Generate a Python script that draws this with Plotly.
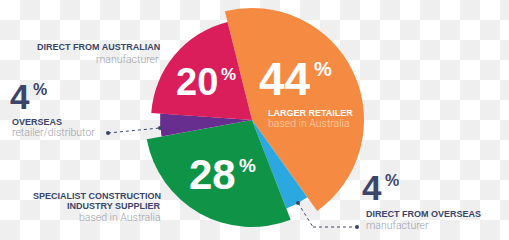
import plotly.graph_objects as go

# Where buyers sourced their products (share of respondents, %)
categories = [
    "Larger retailer based in Australia",
    "Direct from overseas manufacturer",
    "Specialist construction industry supplier based in Australia",
    "Overseas retailer/distributor",
    "Direct from Australian manufacturer",
]
shares = [44, 4, 28, 4, 20]

# Styling per slice (wedge radius in px, fill colour)
slice_radius = [112, 95, 107, 92, 101]
slice_colors = ["#f58b42", "#2aa8df", "#0f9447", "#672d8f", "#d91e5b"]

W, H = 509, 240
CX, CY, R_MAX = 252, 120, 120
START_ANGLE = -14  # first slice edge, degrees clockwise from 12 o'clock

NAVY = "#3a4569"
GREY = "#9da1aa"
BOLD_FONT = "Liberation Sans, Arial, sans-serif"
LIGHT_FONT = "Roboto, Open Sans, sans-serif"

# Wedge geometry derived from the shares
widths = [s * 3.6 for s in shares]
centers = []
acc = START_ANGLE
for w in widths:
    centers.append(acc + w / 2)
    acc += w

fig = go.Figure()

# transparency-style checkerboard backdrop
cell = 20
nx, ny = W // cell + 1, H // cell
z = [[(i + j) % 2 for i in range(nx)] for j in range(ny)]
fig.add_trace(go.Heatmap(
    x=[cell / 2 + cell * i for i in range(nx)],
    y=[cell / 2 + cell * j for j in range(ny)],
    z=z, colorscale=[[0, "#ffffff"], [1, "#efefef"]],
    showscale=False, hoverinfo="skip", zmin=0, zmax=1,
))

fig.add_trace(go.Barpolar(
    r=slice_radius, theta=centers, width=widths,
    marker=dict(color=slice_colors, line=dict(width=0)),
    text=categories, hoverinfo="text",
))

ann = []


def label(x, y, text, size, color, family, bold=False, xanchor="left",
          box_height=None):
    a = dict(
        x=x, y=y, xref="x", yref="y", text=text, showarrow=False,
        xanchor=xanchor, yanchor="middle", borderpad=0,
        font=dict(size=size, color=color, family=family,
                  weight="bold" if bold else 300),
    )
    if box_height:
        a["height"] = box_height
    ann.append(a)


def big_number(split_x, y_mid, value, size, pct_size, color):
    # digits end at split_x, the % sign is top-aligned with the digits
    cap = 0.716
    top = y_mid - cap * size / 2
    pct_mid = top + cap * pct_size / 2
    label(split_x, y_mid, f"{value}", size, color, BOLD_FONT, True, "right",
          box_height=round(0.8 * size))
    label(split_x + 1, pct_mid, "%", pct_size, color, BOLD_FONT, True, "left",
          box_height=round(0.8 * pct_size))


# values inside the pie
big_number(312, 78.5, shares[0], 46, 20, "white")
big_number(219, 82, shares[4], 38, 17, "white")
big_number(237, 173.5, shares[2], 42, 19, "white")
label(267, 112.5, "LARGER RETAILER", 9, "white", BOLD_FONT, True)
label(267, 123.5, "based in Australia", 10.5, "#fcd3b4", LIGHT_FONT)

# outside labels
label(161, 47, "DIRECT FROM AUSTRALIAN", 9, NAVY, BOLD_FONT, True, "right")
label(160, 59.5, "manufacturer", 10.5, GREY, LIGHT_FONT, False, "right")

big_number(31, 96, shares[3], 35, 16, NAVY)
label(11, 122, "OVERSEAS", 9, NAVY, BOLD_FONT, True)
label(11, 132.5, "retailer/distributor", 10.5, GREY, LIGHT_FONT)

label(162, 195.8, "SPECIALIST CONSTRUCTION", 9, NAVY, BOLD_FONT, True, "right")
label(162, 205.9, "INDUSTRY SUPPLIER", 9, NAVY, BOLD_FONT, True, "right")
label(162, 217.5, "based in Australia", 10.5, GREY, LIGHT_FONT, False, "right")

big_number(383, 187, shares[1], 35, 16, NAVY)
label(365, 213.5, "DIRECT FROM OVERSEAS", 9, NAVY, BOLD_FONT, True)
label(365, 225, "manufacturer", 10.5, GREY, LIGHT_FONT)

# dotted leader lines with end dots
shapes = []


def leader(points):
    for (x0, y0), (x1, y1) in zip(points[:-1], points[1:]):
        shapes.append(dict(type="line", xref="x", yref="y", x0=x0, y0=y0,
                           x1=x1, y1=y1, layer="above",
                           line=dict(color=NAVY, width=1, dash="dot")))
    for (x, y) in (points[0], points[-1]):
        shapes.append(dict(type="circle", xref="x", yref="y", x0=x - 2,
                           y0=y - 2, x1=x + 2, y1=y + 2, layer="above",
                           fillcolor=NAVY, line=dict(width=0)))


leader([(108, 133), (160, 128)])
leader([(298, 203), (313, 227), (357, 227)])

fig.update_layout(
    width=W, height=H, margin=dict(l=0, r=0, t=0, b=0),
    paper_bgcolor="white", plot_bgcolor="white", showlegend=False,
    xaxis=dict(range=[0, W], visible=False, fixedrange=True, domain=[0, 1]),
    yaxis=dict(range=[H, 0], visible=False, fixedrange=True, domain=[0, 1]),
    polar=dict(
        domain=dict(x=[(CX - R_MAX) / W, (CX + R_MAX) / W],
                    y=[1 - (CY + R_MAX) / H, 1 - (CY - R_MAX) / H]),
        bgcolor="rgba(0,0,0,0)", hole=0,
        radialaxis=dict(range=[0, R_MAX], visible=False),
        angularaxis=dict(visible=False, rotation=90, direction="clockwise"),
    ),
    annotations=ann, shapes=shapes,
)

fig.write_html("out.html", config={"displayModeBar": False})
